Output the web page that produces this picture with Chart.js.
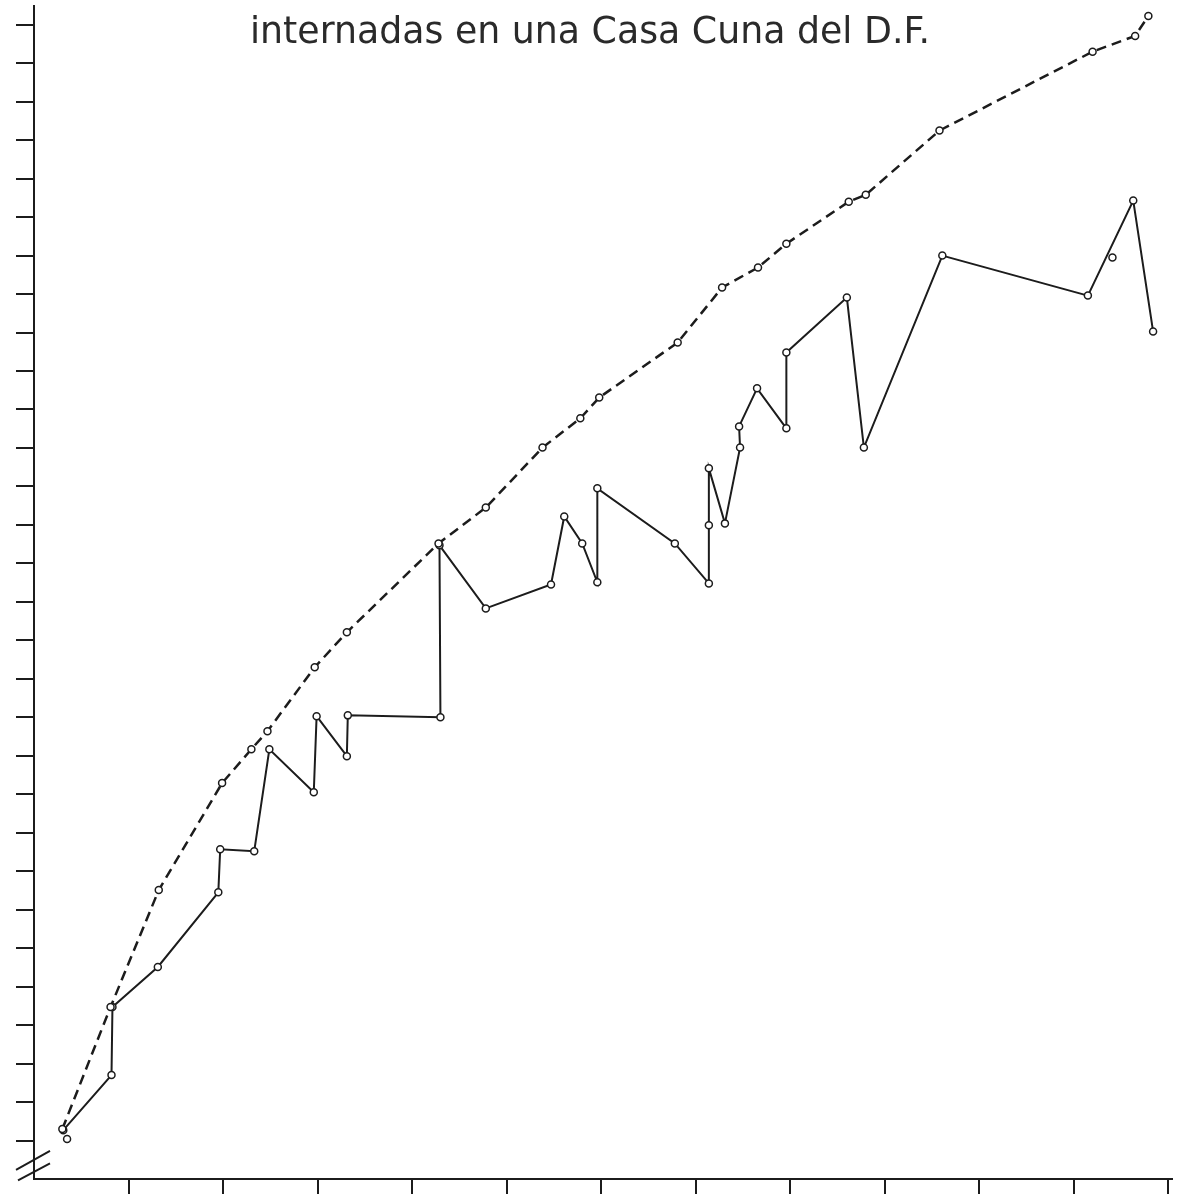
<!DOCTYPE html>
<html>
<head>
<meta charset="utf-8">
<script src="https://cdn.jsdelivr.net/npm/chart.js@4.4.1/dist/chart.umd.min.js"></script>
<style>
html, body { margin: 0; padding: 0; background: #fff; }
#wrap { width: 1178px; height: 1197px; }
</style>
</head>
<body>
<div id="wrap"><canvas id="graph"></canvas></div>
<script>
"use strict";

const titleText = "internadas en una Casa Cuna del D.F.";

// x ticks 1..12, y ticks 1..30 (no labels on the original)
const xTickValues = [1, 2, 3, 4, 5, 6, 7, 8, 9, 10, 11, 12];

// upper curve, dashed
const upperX = [0.30, 0.81, 1.32, 1.99, 2.30, 2.47, 2.97, 3.31, 4.28, 4.78, 5.38, 5.78,
    5.98, 6.81, 7.28, 7.66, 7.96, 8.62, 8.80, 9.58, 11.20, 11.65, 11.79];
const upperY = [1.30, 4.47, 7.51, 10.29, 11.17, 11.64, 13.30, 14.21, 16.52, 17.45, 19.01, 19.77,
    20.31, 21.74, 23.17, 23.69, 24.31, 25.40, 25.58, 27.25, 29.30, 29.71, 30.23];

// lower curve, solid
const lowerX = [0.31, 0.82, 0.83, 1.31, 1.95, 1.97, 2.33, 2.49, 2.96, 2.99, 3.31, 3.32,
    4.30, 4.29, 4.78, 5.47, 5.61, 5.80, 5.96, 5.96, 6.78, 7.14, 7.14, 7.14,
    7.31, 7.47, 7.46, 7.65, 7.96, 7.96, 8.60, 8.78, 9.61, 11.15, 11.63, 11.84];
const lowerY = [1.27, 2.70, 4.47, 5.51, 7.45, 8.57, 8.52, 11.17, 10.05, 12.03, 10.99, 12.05,
    12.00, 16.47, 14.83, 15.45, 17.22, 16.52, 15.51, 17.95, 16.52, 15.48, 16.99, 18.47,
    17.04, 19.01, 19.56, 20.55, 19.51, 21.48, 22.91, 19.01, 24.00, 22.96, 25.43, 22.03];

// loose dots not joined by any line
const strayX = [0.35, 11.41];
const strayY = [1.04, 23.95];

const INK = "#1c1c1c";

function toPoints(xs, ys) {
    return xs.map((x, i) => ({ x: x, y: ys[i] }));
}

function tickColor(ctx) {
    const v = ctx.tick ? ctx.tick.value : 0;
    return (v > 0 && Number.isInteger(v)) ? INK : "rgba(0,0,0,0)";
}

// title sits inside the plot, and the "//" break on the y axis
const scanExtras = {
    id: "scanExtras",
    afterDraw(chart) {
        const ctx = chart.ctx;
        const ys = chart.scales.y;
        ctx.save();
        ctx.fillStyle = "#2a2a2a";
        ctx.font = '38px "DejaVu Sans"';
        ctx.textBaseline = "alphabetic";
        const w = ctx.measureText(titleText).width;
        ctx.translate(250, 43);
        ctx.scale(680 / w, 1);
        ctx.fillText(titleText, 0, 0);
        ctx.restore();

        const ax = chart.chartArea.left;
        const y1 = ys.getPixelForValue(0.5);
        const y2 = ys.getPixelForValue(0.2);
        ctx.save();
        ctx.strokeStyle = INK;
        ctx.lineWidth = 2;
        ctx.beginPath();
        ctx.moveTo(ax - 18, y1 + 10);
        ctx.lineTo(ax + 16, y1 - 9);
        ctx.moveTo(ax - 16, y2 + 9);
        ctx.lineTo(ax + 16, y2 - 8);
        ctx.stroke();
        ctx.restore();
    }
};

const ctx = document.getElementById("graph");

new Chart(ctx, {
    type: "scatter",
    data: {
        datasets: [
            {
                data: toPoints(upperX, upperY),
                showLine: true,
                borderColor: INK,
                borderWidth: 2.5,
                borderDash: [10, 6],
                pointRadius: 3.5,
                pointBorderWidth: 1.5,
                pointBackgroundColor: "#fff",
                pointBorderColor: INK,
            },
            {
                data: toPoints(lowerX, lowerY),
                showLine: true,
                borderColor: INK,
                borderWidth: 2,
                pointRadius: 3.5,
                pointBorderWidth: 1.5,
                pointBackgroundColor: "#fff",
                pointBorderColor: INK,
            },
            {
                data: toPoints(strayX, strayY),
                showLine: false,
                pointRadius: 3.5,
                pointBorderWidth: 1.5,
                pointBackgroundColor: "#fff",
                pointBorderColor: INK,
            }
        ]
    },
    options: {
        animation: false,
        responsive: true,
        maintainAspectRatio: false,
        layout: { padding: { top: 5, right: 6, left: 0, bottom: 0 } },
        plugins: {
            legend: { display: false },
            tooltip: { enabled: false },
        },
        scales: {
            x: {
                type: "linear",
                min: 0,
                max: 12.04,
                afterBuildTicks: function(scale) {
                    scale.ticks = xTickValues.map(v => ({ value: v }));
                },
                afterFit: function(scale) { scale.height = 18; },
                ticks: { display: false },
                border: { display: true, color: INK, width: 2 },
                grid: {
                    drawOnChartArea: false,
                    drawTicks: true,
                    tickLength: 15,
                    lineWidth: 2,
                    color: tickColor,
                }
            },
            y: {
                type: "linear",
                min: 0,
                max: 30.5,
                ticks: { display: false, stepSize: 1 },
                afterFit: function(scale) { scale.width = 34; },
                border: { display: true, color: INK, width: 2 },
                grid: {
                    drawOnChartArea: false,
                    drawTicks: true,
                    tickLength: 18,
                    lineWidth: 2,
                    color: tickColor,
                }
            }
        }
    },
    plugins: [scanExtras]
});
</script>
</body>
</html>
